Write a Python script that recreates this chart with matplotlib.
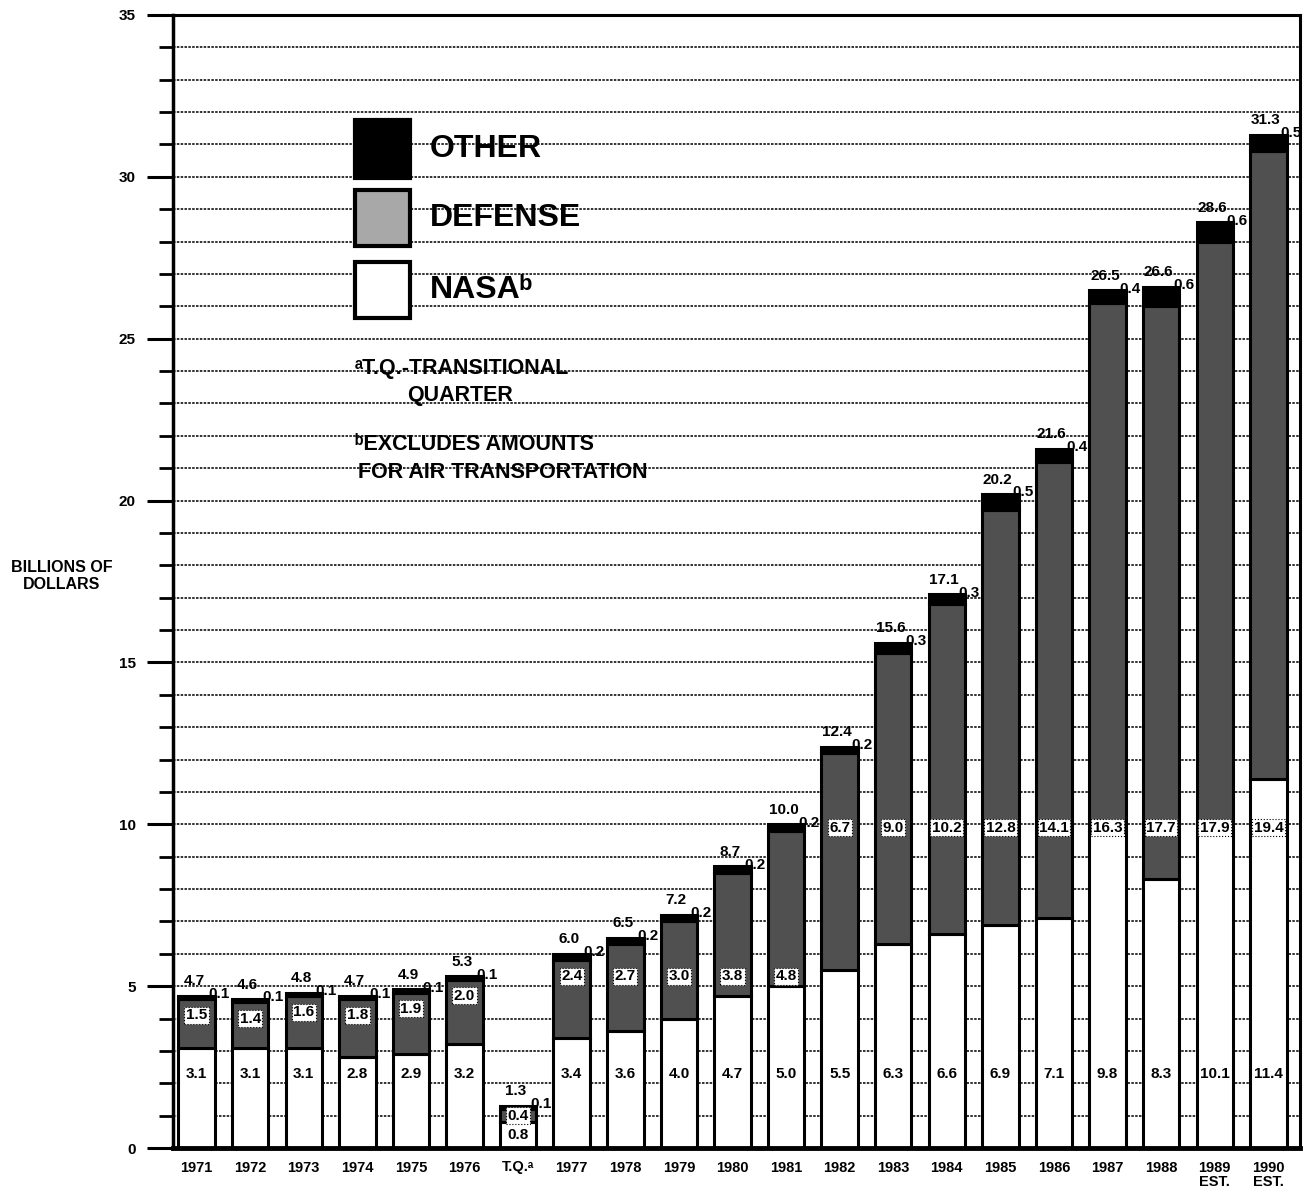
import matplotlib.pyplot as plt
from matplotlib.patches import Rectangle
from matplotlib.ticker import MultipleLocator

plt.rcParams['font.family'] = ['Liberation Sans', 'DejaVu Sans']
plt.rcParams['font.weight'] = 'bold'

years = ["1971", "1972", "1973", "1974", "1975", "1976", "T.Q.\u1d43", "1977",
         "1978", "1979", "1980", "1981", "1982", "1983", "1984", "1985",
         "1986", "1987", "1988", "1989\nEST.", "1990\nEST."]
nasa = [3.1, 3.1, 3.1, 2.8, 2.9, 3.2, 0.8, 3.4, 3.6, 4.0, 4.7, 5.0, 5.5, 6.3,
        6.6, 6.9, 7.1, 9.8, 8.3, 10.1, 11.4]
defense = [1.5, 1.4, 1.6, 1.8, 1.9, 2.0, 0.4, 2.4, 2.7, 3.0, 3.8, 4.8, 6.7, 9.0,
           10.2, 12.8, 14.1, 16.3, 17.7, 17.9, 19.4]
other = [0.1, 0.1, 0.1, 0.1, 0.1, 0.1, 0.1, 0.2, 0.2, 0.2, 0.2, 0.2, 0.2, 0.3,
         0.3, 0.5, 0.4, 0.4, 0.6, 0.6, 0.5]
totals = [4.7, 4.6, 4.8, 4.7, 4.9, 5.3, 1.3, 6.0, 6.5, 7.2, 8.7, 10.0, 12.4,
          15.6, 17.1, 20.2, 21.6, 26.5, 26.6, 28.6, 31.3]

DEF_COLOR = "#505050"
W = 0.68

fig = plt.figure(figsize=(13.15, 11.97), dpi=100)
ax = fig.add_axes([173 / 1315, 1 - 1148 / 1197, 1127 / 1315, 1133 / 1197])

x = list(range(len(years)))

# gridlines every 1 billion
for v in range(1, 35):
    ax.axhline(v, color="#111111", lw=1.2, ls=(0, (1.5, 0.8)), zorder=0)

ax.bar(x, nasa, W, color="white", edgecolor="black", lw=2.2, zorder=2)
ax.bar(x, defense, W, bottom=nasa, color=DEF_COLOR, edgecolor="black", lw=2.2, zorder=2)
bottoms = [n + d for n, d in zip(nasa, defense)]
ax.bar(x, other, W, bottom=bottoms, color="black", edgecolor="black", lw=2.2, zorder=2)

for i in x:
    n, d, o, t = nasa[i], defense[i], other[i], totals[i]
    top = n + d
    # NASA value
    ny = 2.3 if n > 2 else n / 2
    ax.text(i, ny, f"{n:.1f}", ha="center", va="center",
            fontsize=11, fontweight="bold", zorder=4)
    # Defense value in white box
    if top < 11:
        dy = max(min(top - 0.5, 5.3), n + 0.2)
    else:
        dy = 9.9
    ax.text(i, dy, f"{d:.1f}", ha="center", va="center", fontsize=11,
            fontweight="bold", zorder=4,
            bbox=dict(boxstyle="square,pad=0.1", fc="white", ec="black",
                      lw=0.8, ls=":"))
    # total above
    ax.text(i - 0.05, t + 0.45, f"{t:.1f}", ha="center", va="center",
            fontsize=11, fontweight="bold", zorder=4)
    # other value at right edge
    ax.text(i + W / 2 + 0.08, t + 0.05, f"{o:.1f}", ha="center", va="center",
            fontsize=11, fontweight="bold", zorder=4)

ax.set_xlim(-0.44, 20.59)
ax.set_ylim(0, 35)
ax.set_xticks(x)
ax.set_xticklabels(years, fontsize=10.5, fontweight="bold", linespacing=1.0)
ax.tick_params(axis="x", length=0, pad=9)
ax.yaxis.set_major_locator(MultipleLocator(5))
ax.yaxis.set_minor_locator(MultipleLocator(1))
ax.tick_params(axis="y", which="major", length=19, width=2.2, labelsize=11, pad=8)
ax.tick_params(axis="y", which="minor", length=10, width=2)
for lab in ax.get_yticklabels():
    lab.set_fontweight("bold")

ax.spines["left"].set_linewidth(2.5)
ax.spines["bottom"].set_linewidth(3.5)
ax.spines["top"].set_linewidth(2.2)
ax.spines["right"].set_linewidth(2.2)

ax.text(-0.0985, 0.505, "BILLIONS OF\nDOLLARS", transform=ax.transAxes,
        ha="center", va="center", fontsize=11.5, fontweight="bold", linespacing=1.2)

# legend
legend_items = [("OTHER", "black", 0.907, 0.856),
                ("DEFENSE", "#a8a8a8", 0.8455, 0.796),
                ("NASA\u1d47", "white", 0.782, 0.7326)]
for label, fc, ytop, ybot in legend_items:
    ax.add_patch(Rectangle((0.1615, ybot), 0.0488, ytop - ybot, transform=ax.transAxes,
                           fc=fc, ec="black", lw=3, zorder=5))
    ax.text(0.228, (ytop + ybot) / 2, label, transform=ax.transAxes, ha="left",
            va="center", fontsize=23, fontweight="bold", zorder=5)

ax.text(0.1615, 0.6884, "\u1d43T.Q.-TRANSITIONAL", transform=ax.transAxes,
        ha="left", va="center", fontsize=15.5, fontweight="bold", zorder=5)
ax.text(0.208, 0.6646, "QUARTER", transform=ax.transAxes,
        ha="left", va="center", fontsize=15.5, fontweight="bold", zorder=5)
ax.text(0.1615, 0.6205, "\u1d47EXCLUDES AMOUNTS", transform=ax.transAxes,
        ha="left", va="center", fontsize=15.5, fontweight="bold", zorder=5)
ax.text(0.164, 0.5966, "FOR AIR TRANSPORTATION", transform=ax.transAxes,
        ha="left", va="center", fontsize=15.5, fontweight="bold", zorder=5)

fig.savefig("out.png", dpi=100)
